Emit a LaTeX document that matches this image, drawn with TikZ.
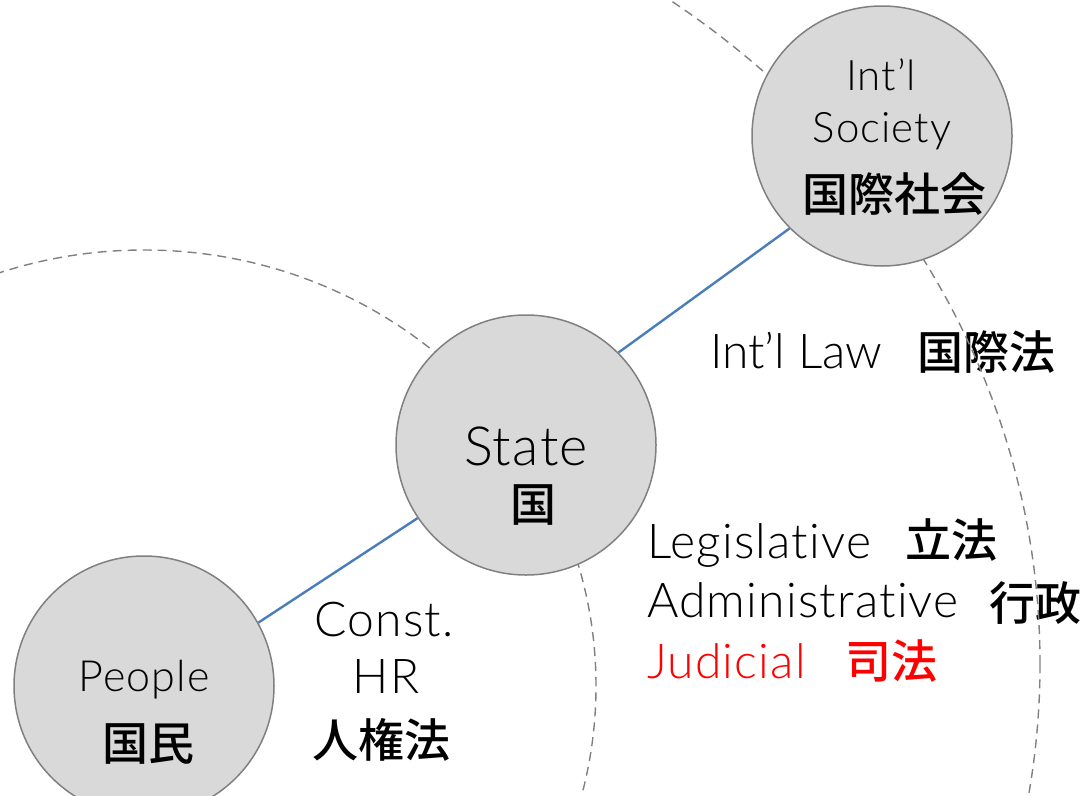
\documentclass[tikz,border=0pt]{standalone}
\usepackage{fontspec}
\setmainfont{Lato}[UprightFont={* Light}, Ligatures=NoCommon, LetterSpace=2.5]
\newfontfamily\cjk{Noto Sans CJK JP}[BoldFont={* Medium}]
\newcommand{\fsize}[1]{\fontsize{#1}{#1}\selectfont}
\definecolor{linkblue}{HTML}{4A7EBB}
\definecolor{nodegray}{HTML}{D9D9D9}
\definecolor{rimgray}{HTML}{808080}
\begin{document}
\begin{tikzpicture}[x=1pt, y=-1pt,
        actor/.style={circle, draw=rimgray, fill=nodegray, line width=1.5pt, minimum size=260pt, inner sep=0pt},
        link/.style={draw=linkblue, line width=2.4pt},
        orbit/.style={draw=rimgray, line width=1.4pt, dash pattern=on 9pt off 6pt},
        en/.style={anchor=base, inner sep=0pt, font=\fsize{48}},
        jp/.style={inner sep=0pt, font=\cjk\bfseries\fsize{46}}
    ]
        \useasboundingbox (0,0) rectangle (1089,795);
        \clip (0,0) rectangle (1089,795);

        % Law labels (under the dashed spheres)
        \node[en, anchor=base west, font={\fsize{48}\addfontfeature{LetterSpace=0}}] (lawEn) at (710,368) {Int’l Law};
        \node[jp] (lawJp) at (986,352) {国際法};
        \node[en, anchor=base west] (legEn) at (647,558) {Legislative};
        \node[jp] (legJp) at (951,540) {立法};
        \node[en, anchor=base west] (admEn) at (647,617) {Administrative};
        \node[jp] (admJp) at (1035,603) {行政};
        \node[en, anchor=base west, text=red] (judEn) at (647,678) {Judicial};
        \node[jp, text=red] (judJp) at (891,661) {司法};

        % Dashed spheres
        \draw[orbit] (144,686) ellipse [x radius=452pt, y radius=436pt];
        \draw[orbit] (144,664) ellipse [x radius=896pt, y radius=820pt];

        % Circles
        \node[actor] (people) at (144,686) {};
        \node[actor] (state) at (526,445) {};
        \node[actor] (society) at (882,136) {};

        % Links
        \draw[link] (people.29) -- (state.214);
        \draw[link] (state.45) -- (society.225);

        % Circle labels
        \node[en, font=\fsize{43}] (peopleEn) at (144,691) {People};
        \node[jp] (peopleJp) at (148,744) {国民};
        \node[en, font=\fsize{54}] (stateEn) at (526,465) {State};
        \node[jp] (stateJp) at (533,505) {国};
        \node[en, font=\fsize{42}] (societyEn) at (881,90) {Int’l};
        \node[en, font=\fsize{42}] (societyEnB) at (882,142) {Society};
        \node[jp] (societyJp) at (894,194) {国際社会};
        \node[en] (constEn) at (384,636) {Const.};
        \node[en] (hrEn) at (386,693) {HR};
        \node[jp] (hrJp) at (381,740) {人権法};
    \end{tikzpicture}
\end{document}
